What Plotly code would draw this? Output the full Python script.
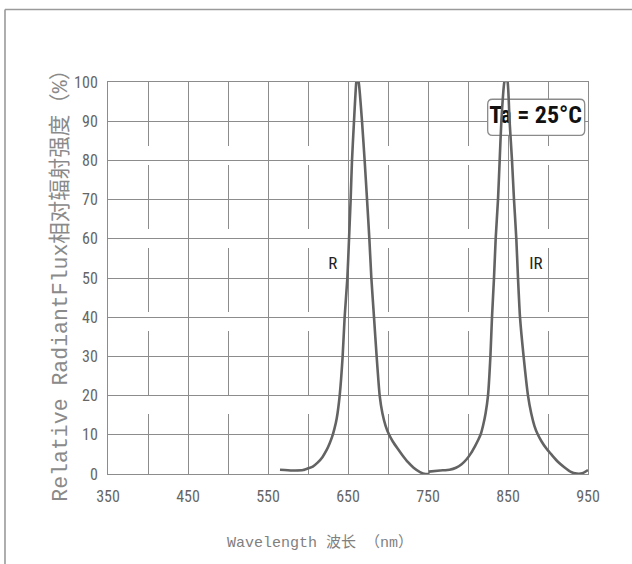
import plotly.graph_objects as go

# ---- data ----
r_nm = [565, 580, 594, 601, 606, 612, 618, 623, 627, 630, 633, 636, 639.6, 643.3, 645.8, 649.2,
        651.3, 653.3, 655, 657.5, 660.4, 661.5, 663.3, 667.5, 670.8, 673.8, 676.7, 679.2,
        682.5, 685.8, 689.6, 693, 697, 701, 706, 712, 718, 725, 732, 740, 747, 752]
r_val = [1.1, 0.9, 1.0, 1.5, 1.9, 2.9, 4.3, 6.0, 7.8, 9.4, 11.5, 14.3, 20, 30, 40, 50,
         60, 70, 80, 90, 100, 100.8, 100, 90, 80, 70, 60, 50,
         40, 30, 20, 15.5, 12.3, 10.2, 8.3, 6.5, 4.8, 3.0, 1.6, 0.5, 0, 0]

ir_nm = [751, 765, 777, 785, 792, 798, 804, 809, 813, 816, 819, 822, 825, 828, 830, 832.5, 834.6,
         837.5, 839.6, 841.7, 845.5, 847.5, 849.5, 852, 855, 857.5, 860.4, 862.5, 865,
         869.5, 875, 879, 883, 887, 892, 898, 905, 912, 920, 928, 936, 943, 950]
ir_val = [0.6, 0.9, 1.1, 1.6, 2.5, 3.7, 5.4, 7.2, 8.8, 10.2, 12.5, 15.5, 20, 30, 40, 50, 60,
          70, 80, 90, 100, 100.8, 100, 90, 80, 70, 60, 50, 40,
          30, 20, 15.5, 12.3, 10.2, 8.3, 6.5, 4.8, 3.2, 1.8, 0.6, 0.1, 0.2, 1.0]

x_ticks = [350, 450, 550, 650, 750, 850, 950]
y_ticks = [0, 10, 20, 30, 40, 50, 60, 70, 80, 90, 100]

curve_labels = ["R", "IR"]
label_x = [631, 885]
label_y = [53.3, 53.3]

temp_text = "Ta = 25°C"
temp_x, temp_y = 884.6, 91.0
box_x0, box_x1, box_y0, box_y1 = 824.6, 945.9, 86.4, 95.6

x_title = "Wavelength 波长 （nm）"
y_title = "Relative RadiantFlux相对辐射强度（%）"

# ---- styles ----
GRID = "#8c8c8c"
CURVE = "#636363"
NARROW = "Liberation Sans Narrow, Arial Narrow, Roboto Condensed, DejaVu Sans Condensed, sans-serif"
MONO = "Liberation Mono, Courier New, Noto Sans CJK SC, monospace"

fig = go.Figure()

# text of the temperature box (drawn first so the curve passes over it)
fig.add_trace(go.Scatter(x=[temp_x], y=[temp_y], mode="text", text=[temp_text],
                         textfont=dict(family=NARROW, size=24, color="#111111", weight="bold"),
                         textposition="middle center", hoverinfo="skip", showlegend=False,
                         cliponaxis=False))

fig.add_trace(go.Scatter(x=r_nm, y=r_val, mode="lines", line=dict(color=CURVE, width=2.6, shape="spline", smoothing=0.5),
                         showlegend=False, cliponaxis=False))
fig.add_trace(go.Scatter(x=ir_nm, y=ir_val, mode="lines", line=dict(color=CURVE, width=2.6, shape="spline", smoothing=0.5),
                         showlegend=False, cliponaxis=False))

fig.add_trace(go.Scatter(x=label_x, y=label_y, mode="text", text=curve_labels,
                         textfont=dict(family=NARROW, size=17, color="#222222"),
                         textposition="middle center", hoverinfo="skip", showlegend=False))

# rounded box behind the temperature text
rx, ry = 6.0, 1.3
path = (f"M {box_x0+rx},{box_y1} L {box_x1-rx},{box_y1} Q {box_x1},{box_y1} {box_x1},{box_y1-ry} "
        f"L {box_x1},{box_y0+ry} Q {box_x1},{box_y0} {box_x1-rx},{box_y0} "
        f"L {box_x0+rx},{box_y0} Q {box_x0},{box_y0} {box_x0},{box_y0+ry} "
        f"L {box_x0},{box_y1-ry} Q {box_x0},{box_y1} {box_x0+rx},{box_y1} Z")
fig.add_shape(type="path", path=path, xref="x", yref="y", layer="between",
              fillcolor="white", line=dict(color="#8a8a8a", width=1.3))

# outer frame (top and left edges)
fig.add_shape(type="line", xref="paper", yref="paper", x0=-0.2146, x1=1.2, y0=1.185, y1=1.185,
              line=dict(color="#9a9a9a", width=1.6))
fig.add_shape(type="line", xref="paper", yref="paper", x0=-0.2146, x1=-0.2146, y0=1.185, y1=-0.3,
              line=dict(color="#9a9a9a", width=1.6))

fig.add_annotation(text=x_title, xref="paper", yref="paper", x=0.441, y=-0.175,
                   showarrow=False, font=dict(family=MONO, size=15, color="#808080"),
                   xanchor="center", yanchor="middle")
fig.add_annotation(text=y_title, xref="paper", yref="paper", x=-0.0985, y=0.495,
                   showarrow=False, textangle=-90, font=dict(family=MONO, size=21.5, color="#8a8a8a"),
                   xanchor="center", yanchor="middle")

fig.update_xaxes(range=[350, 950], tickmode="array", tickvals=x_ticks, ticktext=[str(v) for v in x_ticks],
                 showgrid=True, gridcolor=GRID, gridwidth=1, zeroline=False,
                 minor=dict(tick0=350, dtick=50, showgrid=True, gridcolor=GRID, gridwidth=1, griddash="64px,19px"),
                 showline=True, linecolor=GRID, linewidth=1, mirror=True, ticks="",
                 ticklabelstandoff=8,
                 tickfont=dict(family=NARROW, size=16, color="#666666"))
fig.update_yaxes(range=[0, 100], tickmode="array", tickvals=y_ticks,
                 showgrid=True, gridcolor=GRID, gridwidth=1, zeroline=False,
                 showline=True, linecolor=GRID, linewidth=1, mirror=True, ticks="",
                 ticklabelstandoff=6,
                 tickfont=dict(family=NARROW, size=16, color="#666666"))

fig.update_layout(width=632, height=564, margin=dict(l=108, r=44, t=82, b=90, autoexpand=False),
                  plot_bgcolor="white", paper_bgcolor="white", showlegend=False)

fig.write_html("out.html", config={"displayModeBar": False},
               post_script="document.body.style.margin='0px';")
